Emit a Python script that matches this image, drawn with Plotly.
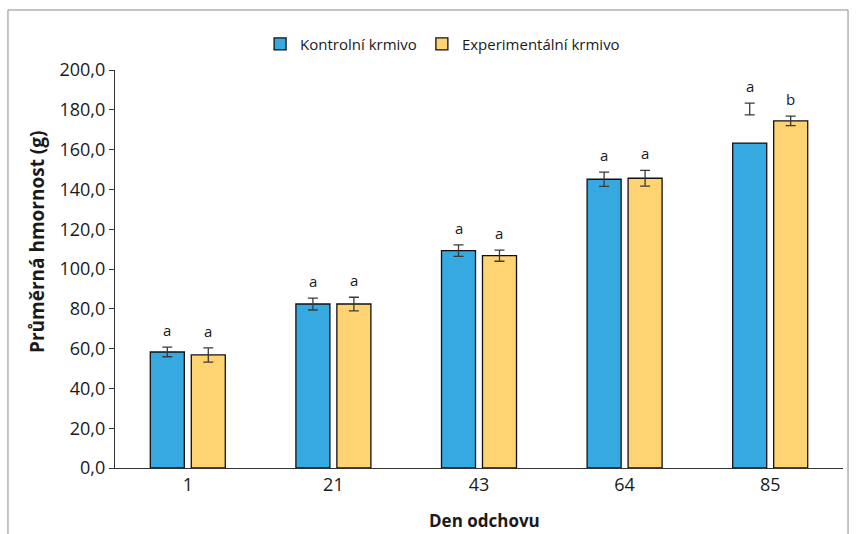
import plotly.graph_objects as go

days = ["1", "21", "43", "64", "85"]
ctrl_mean = [58.3, 82.4, 109.2, 145.1, 163.3]
exp_mean = [56.8, 82.4, 106.7, 145.6, 174.4]
ctrl_err_mid = [58.3, 82.4, 109.2, 145.1, 180.4]
exp_err_mid = [56.8, 82.4, 106.7, 145.6, 174.4]
ctrl_err = [2.4, 3.0, 2.9, 3.6, 3.0]
exp_err = [3.6, 3.4, 2.8, 4.0, 2.4]
ctrl_letters = ["a", "a", "a", "a", "a"]
exp_letters = ["a", "a", "a", "a", "b"]

BLUE = "#36A9E1"
YELLOW = "#FFD371"
ERRC = "#3a3a3a"
FONT = "Open Sans"
TXT = "#1a1a1a"

xi = list(range(len(days)))
off = 0.1407

fig = go.Figure()
fig.add_trace(go.Bar(x=xi, y=ctrl_mean, name="Kontrolní krmivo",
                     marker=dict(color=BLUE, line=dict(color="#111111", width=1.3))))
fig.add_trace(go.Bar(x=xi, y=exp_mean, name="Experimentální krmivo",
                     marker=dict(color=YELLOW, line=dict(color="#111111", width=1.3))))

for mids, errs, sign in [(ctrl_err_mid, ctrl_err, -1), (exp_err_mid, exp_err, 1)]:
    fig.add_trace(go.Scatter(
        x=[i + sign * off for i in xi], y=mids, mode="markers",
        marker=dict(size=1, color="rgba(0,0,0,0)"), showlegend=False, hoverinfo="skip",
        error_y=dict(type="data", array=errs, visible=True, color=ERRC, thickness=1.3, width=5)))

annotations = []
for letters, mids, errs, sign in [(ctrl_letters, ctrl_err_mid, ctrl_err, -1),
                                   (exp_letters, exp_err_mid, exp_err, 1)]:
    for i, (l, m, e) in enumerate(zip(letters, mids, errs)):
        annotations.append(dict(x=i + sign * off, y=m + e, text=l, showarrow=False,
                                yshift=17, yanchor="middle", xref="x", yref="y",
                                font=dict(family=FONT, size=15, color=TXT)))

# axis titles as annotations (positioned like the reference)
annotations.append(dict(text="<b>Průměrná hmornost (g)</b>", textangle=-90, showarrow=False,
                        xref="paper", yref="paper", x=(37 - 115) / 728, y=(468 - 242) / 398,
                        xanchor="center", yanchor="middle",
                        font=dict(family=FONT, size=19, color=TXT)))
annotations.append(dict(text="<b>Den odchovu</b>", showarrow=False,
                        xref="paper", yref="paper", x=(484 - 115) / 728, y=(468 - 520) / 398,
                        xanchor="center", yanchor="middle",
                        font=dict(family=FONT, size=17, color=TXT)))

fig.update_layout(
    width=856, height=534,
    margin=dict(l=115, r=13, t=70, b=66),
    paper_bgcolor="white", plot_bgcolor="white",
    separators=", ",
    barmode="group", bargap=0.437, bargroupgap=0.17,
    font=dict(family=FONT, color=TXT),
    legend=dict(orientation="h", x=0.45, xanchor="center", y=1.065, yanchor="middle",
                font=dict(family=FONT, size=15, color=TXT), bgcolor="rgba(0,0,0,0)"),
    annotations=annotations,
    shapes=[dict(type="rect", xref="paper", yref="paper", x0=-0.147, x1=1.0069,
                 y0=-0.25, y1=1.1508, line=dict(color="#8a8a8a", width=1))],
    showlegend=True,
)
fig.update_xaxes(tickmode="array", tickvals=xi, ticktext=days, range=[-0.5, 4.5],
                 showline=True, linecolor="#333333", linewidth=1.2, ticks="",
                 showgrid=False, zeroline=False, automargin=False,
                 tickfont=dict(family=FONT, size=18, color=TXT))
fig.update_yaxes(range=[0, 200], dtick=20, tickformat=".1f",
                 showline=True, linecolor="#333333", linewidth=1.2,
                 ticks="outside", ticklen=5, tickcolor="#333333",
                 showgrid=False, zeroline=False, automargin=False,
                 tickfont=dict(family=FONT, size=18, color=TXT))

fig.write_html("out.html")
